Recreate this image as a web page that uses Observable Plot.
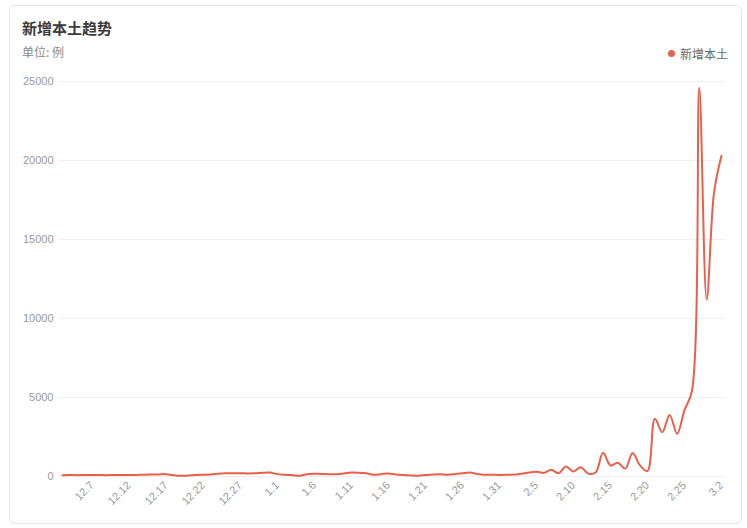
<!DOCTYPE html>
<html>
<head>
<meta charset="utf-8">
<script src="https://cdn.jsdelivr.net/npm/d3@7"></script>
<script src="https://cdn.jsdelivr.net/npm/@observablehq/plot@0.6"></script>
<style>
  html, body { margin: 0; padding: 0; background: #ffffff; }
  body { width: 747px; height: 528px; position: relative; overflow: hidden;
         font-family: "Liberation Sans", "Noto Sans CJK SC", sans-serif; }
  #card { position: absolute; left: 9px; top: 5px; width: 731px; height: 517px;
          border: 1px solid #e6e6e6; border-radius: 6px; background: #fff; }
  #title { position: absolute; left: 22px; top: 17px; font-size: 15px; font-weight: bold; color: #3a3a3a;
           font-family: "Noto Sans CJK SC", sans-serif; }
  #sub { position: absolute; left: 22px; top: 43px; font-size: 12px; color: #888;
         font-family: "Noto Sans CJK SC", sans-serif; }
  #legend { position: absolute; left: 668px; top: 45px; font-size: 12px; color: #666;
            font-family: "Noto Sans CJK SC", sans-serif; display: flex; align-items: center; }
  #legend .dot { width: 7px; height: 7px; border-radius: 50%; background: #e8604a; margin-right: 5px; }
  #chart { position: absolute; left: 0; top: 60px; }
</style>
</head>
<body>
<div id="card"></div>
<div id="title">新增本土趋势</div>
<div id="sub">单位: 例</div>
<div id="legend"><span class="dot"></span><span>新增本土</span></div>
<div id="chart"></div>
<script>
const seriesName = "新增本土";
const dates = [
  "12.3","12.4","12.5","12.6","12.7","12.8","12.9","12.10","12.11","12.12",
  "12.13","12.14","12.15","12.16","12.17","12.18","12.19","12.20","12.21","12.22",
  "12.23","12.24","12.25","12.26","12.27","12.28","12.29","12.30","12.31","1.1",
  "1.2","1.3","1.4","1.5","1.6","1.7","1.8","1.9","1.10","1.11",
  "1.12","1.13","1.14","1.15","1.16","1.17","1.18","1.19","1.20","1.21",
  "1.22","1.23","1.24","1.25","1.26","1.27","1.28","1.29","1.30","1.31",
  "2.1","2.2","2.3","2.4","2.5","2.6","2.7","2.8","2.9","2.10",
  "2.11","2.12","2.13","2.14","2.15","2.16","2.17","2.18","2.19","2.20",
  "2.21","2.22","2.23","2.24","2.25","2.26","2.27","2.28","3.1","3.2"
];
const values = [
  80, 90, 85, 95, 100, 90, 85, 95, 100, 90,
  100, 110, 120, 130, 150, 80, 40, 60, 90, 110,
  130, 170, 210, 200, 210, 190, 200, 230, 250, 150,
  110, 90, 40, 140, 180, 160, 150, 150, 190, 250,
  240, 200, 110, 150, 190, 130, 90, 60, 50, 90,
  120, 150, 110, 150, 200, 250, 160, 110, 110, 100,
  110, 120, 180, 250, 300, 230, 420, 210, 630, 320,
  590, 180, 250, 1500, 700, 870, 500, 1480, 700, 350,
  3650, 2800, 3900, 2700, 4200, 5400, 24600, 11200, 18000, 20300
];
const xTickLabels = ["12.7","12.12","12.17","12.22","12.27","1.1","1.6","1.11","1.16","1.21","1.26","1.31","2.5","2.10","2.15","2.20","2.25","3.2"];
const yTicks = [0, 5000, 10000, 15000, 20000, 25000];

const parseMD = s => {
  const [m, d] = s.split(".").map(Number);
  return new Date(Date.UTC(m === 12 ? 2021 : 2022, m - 1, d));
};
const data = dates.map((s, i) => ({date: parseMD(s), value: values[i], series: seriesName}));
const tickDates = xTickLabels.map(parseMD);
const fmt = d => `${d.getUTCMonth() + 1}.${d.getUTCDate()}`;

const chart = Plot.plot({
  width: 747,
  height: 460,
  marginLeft: 62,
  marginRight: 26,
  marginTop: 21,
  marginBottom: 44,
  style: {fontFamily: "'Liberation Sans', 'Noto Sans CJK SC', sans-serif", fontSize: "11px", color: "#999", background: "transparent"},
  x: {type: "utc", domain: [data[0].date, data[data.length - 1].date]},
  y: {domain: [0, 25000]},
  marks: [
    Plot.ruleY(yTicks, {stroke: "#efefef", strokeWidth: 1, insetLeft: -3, insetRight: -4}),
    Plot.axisY({ticks: yTicks, tickFormat: d => String(d), tickSize: 0, tickPadding: 9, label: null, fill: "#999", fontSize: 11}),
    Plot.axisX({ticks: tickDates, tickFormat: fmt, tickRotate: -45, tickSize: 0, tickPadding: 7, label: null, fill: "#999", fontSize: 11}),
    Plot.line(data, {x: "date", y: "value", stroke: "#e8604a", strokeWidth: 2, curve: "catmull-rom"})
  ]
});
document.getElementById("chart").appendChild(chart);
</script>
</body>
</html>
